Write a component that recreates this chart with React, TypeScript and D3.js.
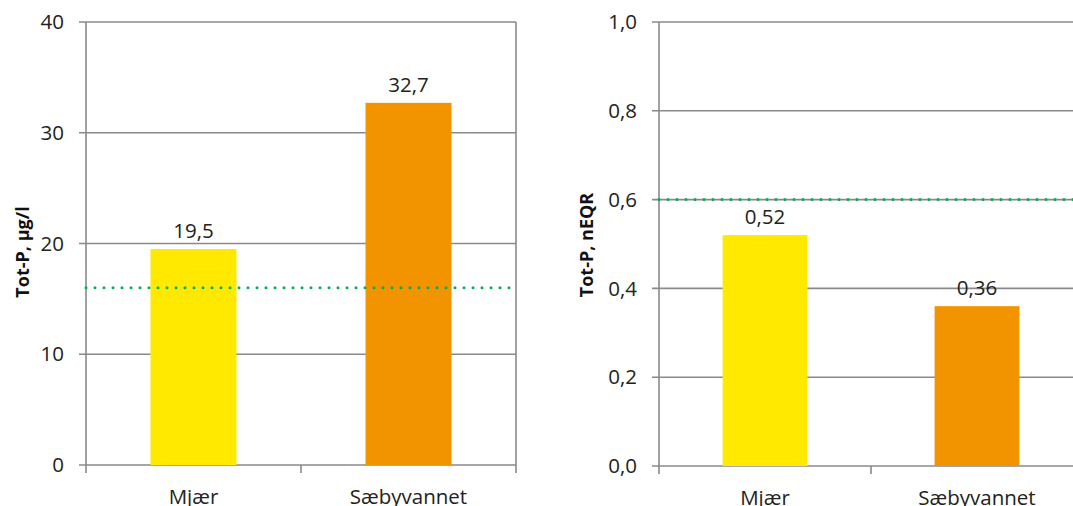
import React, { useEffect } from "react";
import * as d3 from "d3";

const categories = ["Mjær", "Sæbyvannet"];
const barColors = ["#FFE900", "#F29400"];
const totP = [19.5, 32.7];
const totPLabels = ["19,5", "32,7"];
const totPTicks = [0, 10, 20, 30, 40];
const totPLimit = 16;
const neqr = [0.52, 0.36];
const neqrLabels = ["0,52", "0,36"];
const neqrTicks = [0, 0.2, 0.4, 0.6, 0.8, 1.0];
const neqrLimit = 0.6;

const FONT = "'Open Sans', 'DejaVu Sans', sans-serif";
const GRID = "#8a8a8a";
const GREEN = "#00B050";
const FS = 20.5;

type PanelProps = {
  left: number;
  right: number;
  top: number;
  bottom: number;
  yMax: number;
  ticks: number[];
  tickFmt: (v: number) => string;
  values: number[];
  labels: string[];
  limit: number;
  title: string;
  titleX: number;
  titleY: number;
  rightBorder: boolean;
};

function Panel(p: PanelProps) {
  const x = d3
    .scaleBand<string>()
    .domain(categories)
    .range([p.left, p.right])
    .paddingInner(0.6)
    .paddingOuter(0.3);
  const y = d3.scaleLinear().domain([0, p.yMax]).range([p.bottom, p.top]);
  const step = x.step();
  const catEdges = [p.left, p.left + step, p.left + 2 * step];
  return (
    <g>
      {p.ticks.map((t) => (
        <g key={t}>
          <line x1={p.left - 7} x2={p.right} y1={y(t)} y2={y(t)} stroke={GRID} strokeWidth={1.6} />
          <text x={p.left - 22} y={y(t)} dy="0.35em" textAnchor="end" fontSize={FS} fill="#222" fontFamily={FONT}>
            {p.tickFmt(t)}
          </text>
        </g>
      ))}
      <line x1={p.left} x2={p.left} y1={p.top} y2={p.bottom + 8} stroke={GRID} strokeWidth={1.6} />
      {catEdges.slice(1).map((e, i) =>
        i === 1 && p.rightBorder ? (
          <line key={i} x1={e} x2={e} y1={p.top} y2={p.bottom + 8} stroke={GRID} strokeWidth={1.6} />
        ) : (
          <line key={i} x1={e} x2={e} y1={p.bottom} y2={p.bottom + 8} stroke={GRID} strokeWidth={1.6} />
        )
      )}
      {categories.map((c, i) => (
        <g key={c}>
          <rect x={x(c)} y={y(p.values[i])} width={x.bandwidth()} height={p.bottom - y(p.values[i])} fill={barColors[i]} />
          <text
            x={(x(c) as number) + x.bandwidth() / 2}
            y={y(p.values[i]) - 11}
            textAnchor="middle"
            fontSize={FS}
            fill="#222"
            fontFamily={FONT}
          >
            {p.labels[i]}
          </text>
          <text
            x={(x(c) as number) + x.bandwidth() / 2}
            y={p.bottom + 39}
            textAnchor="middle"
            fontSize={FS}
            fill="#222"
            fontFamily={FONT}
          >
            {c}
          </text>
        </g>
      ))}
      <line
        x1={p.left}
        x2={p.right}
        y1={y(p.limit)}
        y2={y(p.limit)}
        stroke={GREEN}
        strokeWidth={3}
        strokeLinecap="round"
        strokeDasharray="0 9"
      />
      <text
        transform={`translate(${p.titleX},${p.titleY}) rotate(-90)`}
        textAnchor="middle"
        fontSize={18}
        fontWeight="bold"
        fill="#111"
        fontFamily={FONT}
      >
        {p.title}
      </text>
    </g>
  );
}

export default function App() {
  useEffect(() => {
    document.body.style.margin = "0";
  }, []);
  const fmt1 = (v: number) => d3.format(".1f")(v).replace(".", ",");
  return (
    <svg width={1073} height={506} style={{ position: "fixed", left: 0, top: 0, background: "#fff" }}>
      <rect width={1073} height={506} fill="#fff" />
      <Panel
        left={86}
        right={516}
        top={22}
        bottom={465}
        yMax={40}
        ticks={totPTicks}
        tickFmt={(v) => String(v)}
        values={totP}
        labels={totPLabels}
        limit={totPLimit}
        title="Tot-P, µg/l"
        titleX={29}
        titleY={252}
        rightBorder={true}
      />
      <Panel
        left={659}
        right={1083}
        top={22}
        bottom={466}
        yMax={1}
        ticks={neqrTicks}
        tickFmt={fmt1}
        values={neqr}
        labels={neqrLabels}
        limit={neqrLimit}
        title="Tot-P, nEQR"
        titleX={593}
        titleY={245}
        rightBorder={false}
      />
    </svg>
  );
}
